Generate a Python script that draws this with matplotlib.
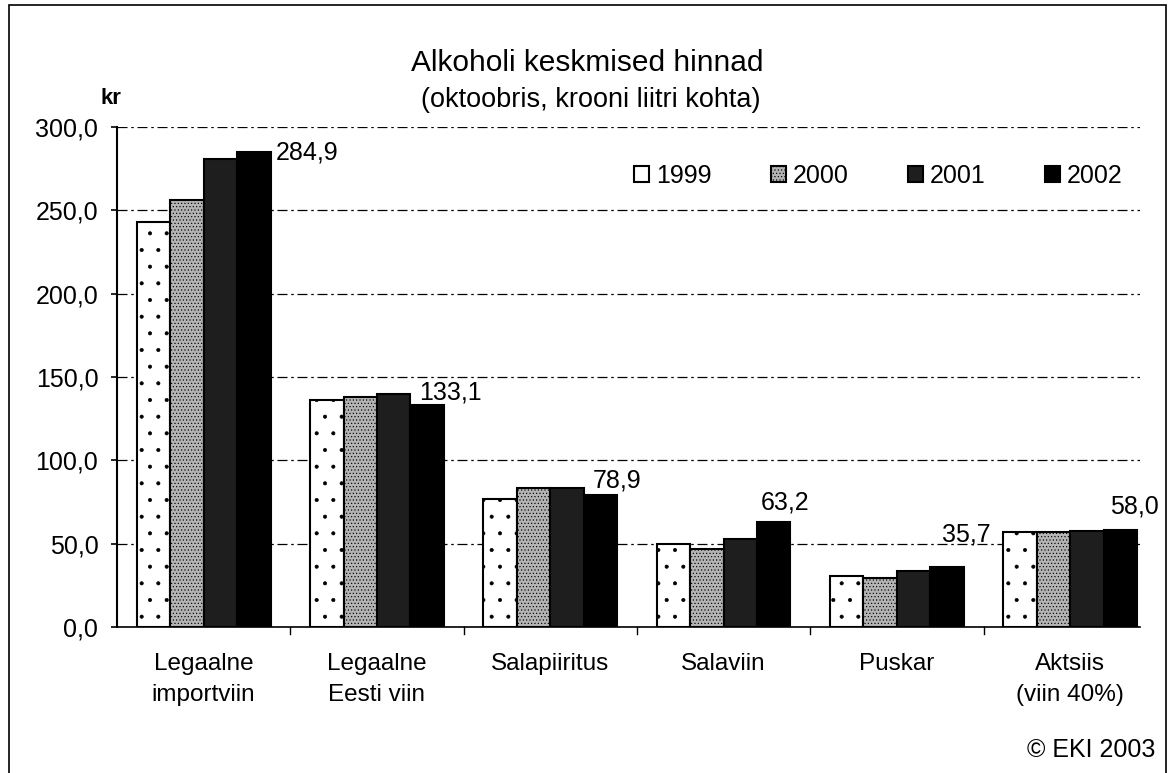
import numpy as np
import matplotlib.pyplot as plt
from matplotlib.patches import Rectangle

plt.rcParams['font.family'] = ['Liberation Sans', 'DejaVu Sans']
plt.rcParams['hatch.linewidth'] = 0.45

# Andmed (loetud jooniselt)
categories = ['Legaalne\nimportviin', 'Legaalne\nEesti viin', 'Salapiiritus',
              'Salaviin', 'Puskar', 'Aktsiis\n(viin 40%)']
years = ['1999', '2000', '2001', '2002']
v1999 = [243.0, 136.0, 77.0, 50.0, 30.5, 57.0]
v2000 = [256.0, 138.0, 83.5, 47.0, 29.5, 57.0]
v2001 = [281.0, 140.0, 83.5, 52.5, 33.5, 57.5]
v2002 = [284.9, 133.1, 78.9, 63.2, 35.7, 58.0]
labels_2002 = ['284,9', '133,1', '78,9', '63,2', '35,7', '58,0']
yticks = [0, 50, 100, 150, 200, 250, 300]

series = [v1999, v2000, v2001, v2002]
faces = ['white', '#b4b4b4', '#1e1e1e', 'black']
hatches = ['.', '.....', '', '']

fig = plt.figure(figsize=(11.68, 7.73), dpi=100)
ax = fig.add_axes([0.1002, 0.1889, 0.8754, 0.6468])

x = np.arange(len(categories))
w = 0.193
for i, vals in enumerate(series):
    ax.bar(x + (i - 1.5) * w, vals, w, color=faces[i], edgecolor='black',
           linewidth=1.5, hatch=hatches[i], label=years[i], zorder=3)

# väärtused 2002 tulpadel (nihe punktides tulba ülaservast)
offsets = [(38, 0), (17, 9), (12, 11), (8, 14), (14, 24), (10, 17)]
for i, val in enumerate(v2002):
    ax.annotate(labels_2002[i], (x[i] + 1.5 * w, val), xytext=offsets[i],
                textcoords='offset points', ha='center', va='center', fontsize=18)

ax.set_xlim(-0.5, len(categories) - 0.6)
ax.set_ylim(0, 300)
ax.set_yticks(yticks)
ax.set_yticklabels([f'{t:.1f}'.replace('.', ',') for t in yticks], fontsize=18)
ax.set_xticks(x)
ax.set_xticklabels(categories, fontsize=17.5, linespacing=1.5)
ax.tick_params(axis='x', length=0, pad=19)
ax.tick_params(axis='y', length=4.5, direction='out', width=1.2, pad=9)
ax.yaxis.grid(True, color='black', linestyle=(0, (8, 3, 2, 3)), linewidth=0.9)
ax.set_axisbelow(True)
for s in ['top', 'right']:
    ax.spines[s].set_visible(False)
ax.spines['left'].set_linewidth(1.5)
ax.spines['bottom'].set_linewidth(1.2)
for b in np.arange(0.5, len(categories) - 0.5, 1):
    ax.plot([b, b], [0, -4], color='black', lw=1, clip_on=False)

ax.legend(loc='center', ncol=4, frameon=False, fontsize=18,
          handlelength=0.6, handleheight=0.6, handletextpad=0.3,
          columnspacing=2.35, bbox_to_anchor=(0.752, 0.772),
          bbox_transform=fig.transFigure)

fig.text(111 / 1168, 1 - 99 / 773, 'kr', fontsize=16, ha='center', va='center',
         fontweight='bold')
fig.text(0.503, 0.918, 'Alkoholi keskmised hinnad', ha='center', va='center',
         fontsize=21.5)
fig.text(0.506, 0.870, '(oktoobris, krooni liitri kohta)', ha='center',
         va='center', fontsize=19.5)
fig.text(0.989, 0.03, '© EKI 2003', ha='right', va='center', fontsize=18)

fig.patches.append(Rectangle((0.008, -0.01), 0.99, 1.003, transform=fig.transFigure,
                             fill=False, edgecolor='black', lw=1.2))

fig.savefig('out.png', dpi=100)
